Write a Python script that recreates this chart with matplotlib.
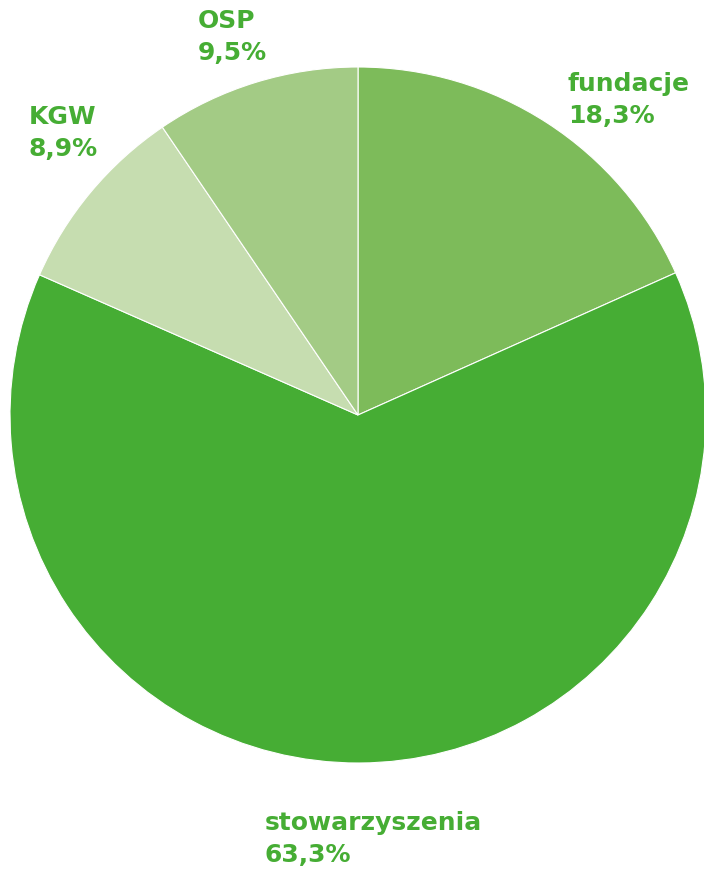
import matplotlib
matplotlib.use('Agg')
import matplotlib.pyplot as plt

# Data
labels = ['fundacje', 'stowarzyszenia', 'KGW', 'OSP']
values = [18.3, 63.3, 8.9, 9.5]
value_texts = ['18,3%', '63,3%', '8,9%', '9,5%']
colors = ['#7dbb5a', '#46ad34', '#c6ddb0', '#a3cb85']
text_color = '#46ad34'

W, H = 704, 869
fig = plt.figure(figsize=(W / 100, H / 100), dpi=100)
ax = fig.add_axes([0, 0, 1, 1])

ax.pie(values, colors=colors, startangle=90, counterclock=False,
       center=(358, H - 415), radius=348, frame=True,
       wedgeprops=dict(edgecolor='white', linewidth=0.8))
ax.set_xlim(0, W)
ax.set_ylim(0, H)
ax.set_aspect('equal')
ax.axis('off')

# label positions (top-left, in pixels from top)
label_pos = [(568, 72), (265, 811), (29, 105), (198, 9)]
for (x, y), name, val in zip(label_pos, labels, value_texts):
    ax.text(x, H - y, name + '\n' + val, ha='left', va='top',
            fontsize=18, fontweight='bold', color=text_color,
            family='DejaVu Sans', linespacing=1.4)

fig.savefig('out.png', dpi=100)
